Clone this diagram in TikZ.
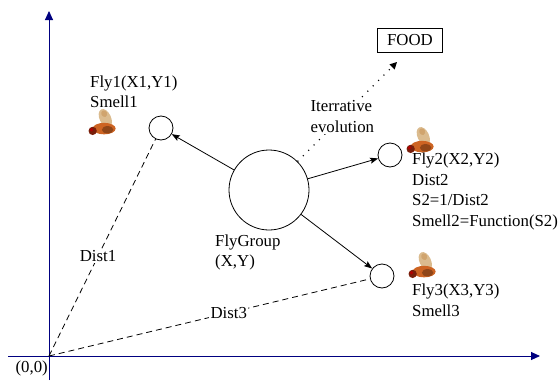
\documentclass[tikz,border=0pt]{standalone}
\usepackage{fontspec}
\setmainfont{Liberation Serif}
\usetikzlibrary{arrows.meta}
\definecolor{axisblue}{RGB}{0,0,128}
\definecolor{flybody}{RGB}{205,100,35}
\definecolor{flyhead}{RGB}{120,30,10}
\definecolor{flywing}{RGB}{215,180,130}
\tikzset{
  txt/.style={font=\fontsize{16.8}{20.5}\selectfont, inner sep=0pt, align=left},
  lbl/.style={txt, fill=white, inner sep=1.5pt},
  axis/.style={draw=axisblue, line width=0.9pt, -{Triangle[length=9pt,width=8pt]}},
  flycircle/.style={circle, draw, line width=0.8pt, minimum size=24pt, inner sep=0pt},
  move/.style={draw, line width=0.8pt, -{Stealth[length=8pt,width=6pt,inset=1.5pt]}},
  distline/.style={draw, line width=0.8pt, dash pattern=on 6pt off 4pt},
  evolve/.style={draw, line width=1.1pt, dash pattern=on 1.1pt off 6.5pt,
    -{Triangle[length=7pt,width=7pt]}},
  fly/.pic={
    % wing
    \fill[flywing, opacity=0.9] (2,-5) ellipse [x radius=5, y radius=8.5, rotate=25];
    \fill[flywing!70!brown] (1,-9) ellipse [x radius=2.5, y radius=3, rotate=25];
    % body and head
    \fill[flybody] (1,4) ellipse [x radius=10, y radius=5];
    \fill[flybody!70!black] (4,5) ellipse [x radius=5, y radius=3.2];
    \fill[flyhead] (-9,6) circle [radius=3.6];
    \fill[red!70!black] (-10,5) circle [radius=1.6];
  }
}
\begin{document}
\begin{tikzpicture}[x=1pt, y=-1pt]
\useasboundingbox (0,0) rectangle (559,380);

% axes
\coordinate (O) at (49,356);
\coordinate (ytop) at (49,11);
\coordinate (ybot) at (49,380);
\coordinate (xleft) at (8,356);
\coordinate (xright) at (540,356);
\path[axis] (ybot) -- (ytop);
\path[axis] (xleft) -- (xright);
\node[txt, anchor=east] (origin) at (48,368) {(0,0)};

% swarm and individual flies
\node[circle, draw, line width=0.8pt, minimum size=80pt, inner sep=0pt] (group) at (269,190) {};
\node[flycircle] (f1) at (161,128) {};
\node[flycircle] (f2) at (390,155) {};
\node[flycircle] (f3) at (382,276) {};

\node[txt, anchor=west] (grouptext) at (215,252.5) {FlyGroup\\(X,Y)};
\node[txt, anchor=west] (f1text) at (90,92) {Fly1(X1,Y1)\\Smell1};
\node[txt, anchor=west] (f2text) at (412,191.5) {Fly2(X2,Y2)\\Dist2\\S2=1/Dist2\\Smell2=Function(S2)};
\node[txt, anchor=west] (f3text) at (412,300) {Fly3(X3,Y3)\\Smell3};

% food source
\node[draw, line width=0.8pt, minimum width=65pt, minimum height=24pt, inner sep=0pt,
  font=\fontsize{16.8}{20.5}\selectfont] (food) at (410,40) {FOOD};
\coordinate (foodtip) at (397,62);

% random search moves
\path[move] (group) -- (f1);
\path[move] (group) -- (f2);
\path[move] (group) -- (f3);

% distances to the origin
\path[distline] (O) -- (f1) node[lbl, pos=0.46] (d1) {Dist1};
\path[distline] (O) -- (f3) node[lbl, pos=0.56] (d3) {Dist3};

% evolution towards the food
\path[evolve] (group) -- (foodtip) node[lbl, pos=0.45] (evo) {Iterrative\\evolution};

% flies
\pic[scale=1.15] at (103,124) {fly};
\pic[scale=1.15] at (421,142) {fly};
\pic[scale=1.15] at (423,267) {fly};
\end{tikzpicture}
\end{document}
